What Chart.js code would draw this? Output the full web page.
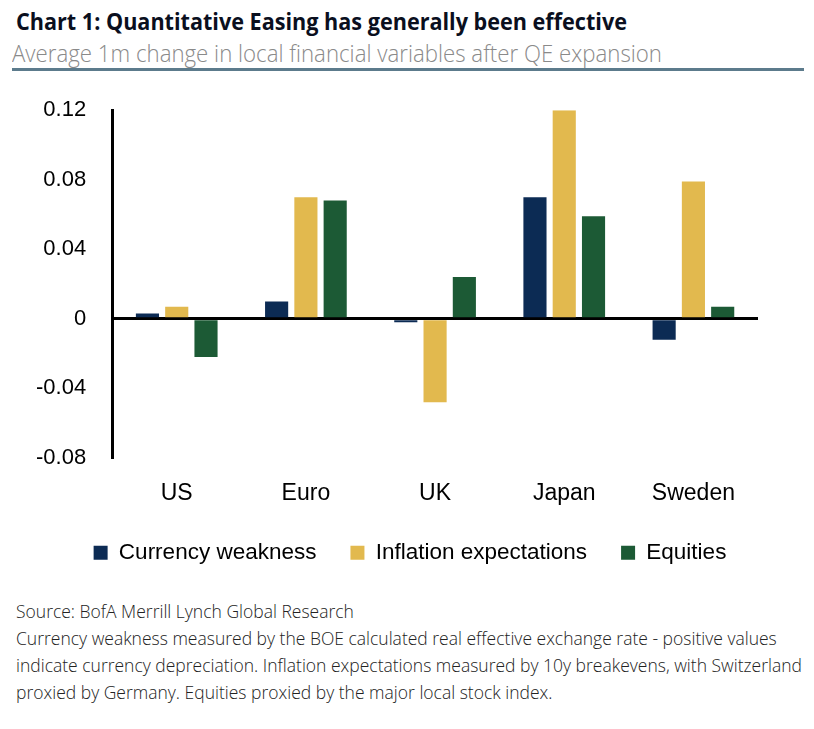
<!DOCTYPE html>
<html>
<head>
<meta charset="utf-8">
<script src="https://cdn.jsdelivr.net/npm/chart.js@4/dist/chart.umd.min.js"></script>
<style>
  html, body { margin: 0; padding: 0; background: #fff; }
  body { width: 814px; height: 729px; position: relative; overflow: hidden; font-family: "Open Sans", sans-serif; }
  .fit { transform-origin: 0 0; white-space: nowrap; }
  #title { position: absolute; left: 16px; top: 4px; font-size: 24px; font-weight: 700; color: #0a0f1e; }
  #subtitle { position: absolute; left: 12px; top: 37px; font-size: 23px; font-weight: 300; color: #8a8a8a; }
  #rule { position: absolute; left: 12px; top: 68px; width: 792px; height: 3px; background: #5c7b8c; }
  #chartBox { position: absolute; left: 0; top: 71px; width: 814px; height: 517px; }
  #notes { position: absolute; left: 16px; top: 598px; font-size: 18px; font-weight: 300; color: #222; line-height: 27px; }
</style>
</head>
<body>
<div id="chartBox"><canvas id="chart"></canvas></div>
<div id="title" class="fit">Chart 1: Quantitative Easing has generally been effective</div>
<div id="subtitle" class="fit">Average 1m change in local financial variables after QE expansion</div>
<div id="rule"></div>
<div id="notes" class="fit">Source: BofA Merrill Lynch Global Research<br>Currency weakness measured by the BOE calculated real effective exchange rate - positive values<br>indicate currency depreciation. Inflation expectations measured by 10y breakevens, with Switzerland<br>proxied by Germany. Equities proxied by the major local stock index.</div>
<script>
const countries = ["US", "Euro", "UK", "Japan", "Sweden"];
const currencyWeakness = [0.003, 0.010, -0.002, 0.070, -0.012];
const inflationExpectations = [0.007, 0.070, -0.048, 0.120, 0.079];
const equities = [-0.022, 0.068, 0.024, 0.059, 0.007];
const yTicks = [-0.08, -0.04, 0, 0.04, 0.08, 0.12];

// squeeze the header/footer text to the widths of the original (its font is semi-condensed)
function fitWidth(id, target) {
  const el = document.getElementById(id);
  const w = el.getBoundingClientRect().width;
  el.style.transform = `scaleX(${target / w})`;
}
document.fonts.ready.then(() => {
  fitWidth("title", 611);
  fitWidth("subtitle", 650);
  fitWidth("notes", 786);
});

const arial = "Liberation Sans, Arial, sans-serif";

// nudge the legend so it sits where the original puts it
const legendShift = {
  id: "legendShift",
  afterLayout(chart) {
    const lg = chart.legend;
    lg.left += 26; lg.right += 26;
    lg.top -= 14; lg.bottom -= 14;
  }
};

const ctx = document.getElementById("chart").getContext("2d");
new Chart(ctx, {
  type: "bar",
  data: {
    labels: countries,
    datasets: [
      { label: "Currency weakness", data: currencyWeakness, backgroundColor: "#0c2b54" },
      { label: "Inflation expectations", data: inflationExpectations, backgroundColor: "#e2b94e" },
      { label: "Equities", data: equities, backgroundColor: "#1c5a35" }
    ]
  },
  options: {
    responsive: true,
    maintainAspectRatio: false,
    animation: false,
    layout: { padding: { left: 10, right: 56, top: 4, bottom: 0 } },
    datasets: { bar: { categoryPercentage: 0.68, barPercentage: 0.79 } },
    plugins: {
      legend: {
        position: "bottom",
        labels: {
          boxWidth: 14, boxHeight: 14, padding: 34,
          color: "#000",
          font: { family: arial, size: 22.5 }
        }
      },
      tooltip: { enabled: false }
    },
    scales: {
      x: {
        grid: { display: false },
        border: { display: false },
        ticks: { color: "#000", padding: 14, font: { family: arial, size: 23 } }
      },
      y: {
        min: -0.08, max: 0.12,
        afterBuildTicks: axis => { axis.ticks = yTicks.map(v => ({ value: v })); },
        border: { display: true, color: "#000", width: 3 },
        grid: {
          drawTicks: false,
          color: c => (c.tick && Math.abs(c.tick.value) < 1e-9 ? "#000" : "rgba(0,0,0,0)"),
          lineWidth: 3
        },
        ticks: {
          color: "#000", padding: 26,
          font: { family: arial, size: 22 },
          callback: v => (Math.abs(v) < 1e-9 ? "0" : Number(v).toFixed(2))
        }
      }
    }
  },
  plugins: [legendShift]
});
</script>
</body>
</html>
